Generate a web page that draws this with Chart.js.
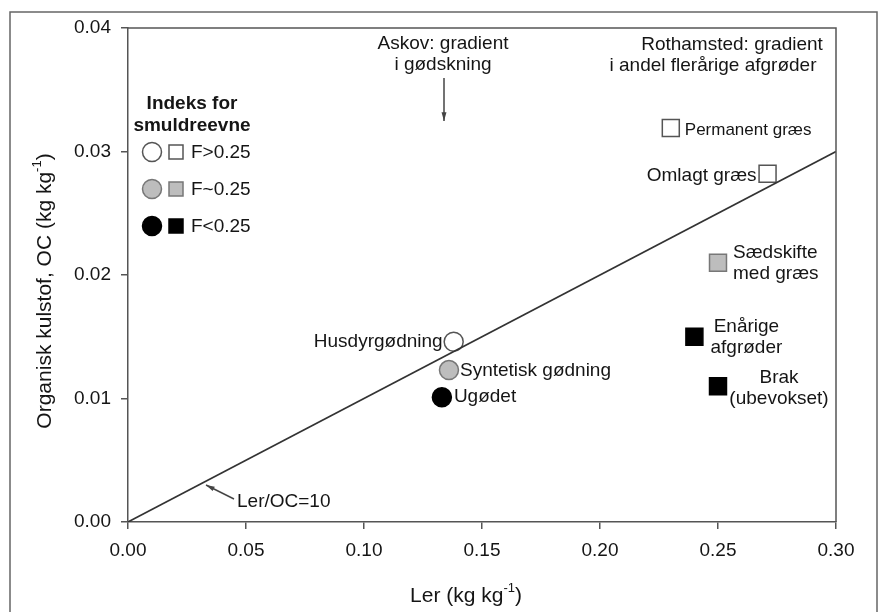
<!DOCTYPE html>
<html>
<head>
<meta charset="utf-8">
<script src="https://cdn.jsdelivr.net/npm/chart.js@4"></script>
<style>
  body { margin: 0; background: #fff; }
  canvas { display: block; }
</style>
</head>
<body>
<canvas id="chart" width="880" height="612"></canvas>
<script>
// Data
const names = ["Husdyrgødning", "Syntetisk gødning", "Ugødet", "Permanent græs",
  "Omlagt græs", "Sædskifte med græs", "Enårige afgrøder", "Brak (ubevokset)"];
const clay = [0.138, 0.136, 0.133, 0.230, 0.271, 0.250, 0.240, 0.250];
const carbon = [0.0146, 0.0123, 0.0101, 0.0319, 0.0282, 0.0210, 0.0150, 0.0110];
const friability = ["high", "mid", "low", "high", "high", "mid", "low", "low"];
const site = ["Askov", "Askov", "Askov", "Rothamsted", "Rothamsted", "Rothamsted", "Rothamsted", "Rothamsted"];

// Ler/OC = 10 reference line end points
const refClay = [0, 0.30];
const refCarbon = [0, 0.030];

const xTicks = [0, 0.05, 0.10, 0.15, 0.20, 0.25, 0.30];
const yTicks = [0, 0.01, 0.02, 0.03, 0.04];

const fills = { high: "#ffffff", mid: "#bdbdbd", low: "#000000" };
const strokes = { high: "#555555", mid: "#777777", low: "#000000" };
const legendRows = [["high", "F>0.25"], ["mid", "F~0.25"], ["low", "F<0.25"]];

// how each point label sits next to its marker (pixels)
const labelStyle = [
  { dx: -11, dy: 0, align: "right", lines: ["Husdyrgødning"] },
  { dx: 11, dy: 1, align: "left", lines: ["Syntetisk gødning"] },
  { dx: 12, dy: 0, align: "left", lines: ["Ugødet"] },
  { dx: 14, dy: 2, align: "left", lines: ["Permanent græs"], size: 17 },
  { dx: -11, dy: 2, align: "right", lines: ["Omlagt græs"] },
  { dx: 15, dy: -10, align: "left", lines: ["Sædskifte", "med græs"] },
  { dx: 52, dy: -10, align: "center", lines: ["Enårige", "afgrøder"] },
  { dx: 61, dy: -8, align: "center", lines: ["Brak", "(ubevokset)"] }
];

const FONT = "'Liberation Sans', Arial, sans-serif";
const INK = "#151515";
const AXIS = "#555";

function arrow(ctx, x1, y1, x2, y2) {
  const a = Math.atan2(y2 - y1, x2 - x1);
  ctx.beginPath();
  ctx.moveTo(x1, y1);
  ctx.lineTo(x2, y2);
  ctx.stroke();
  ctx.beginPath();
  ctx.moveTo(x2, y2);
  ctx.lineTo(x2 - 9 * Math.cos(a - 0.28), y2 - 9 * Math.sin(a - 0.28));
  ctx.lineTo(x2 - 9 * Math.cos(a + 0.28), y2 - 9 * Math.sin(a + 0.28));
  ctx.closePath();
  ctx.fill();
}

function superTitle(ctx, x, y, base, sup, tail, size) {
  ctx.font = size + "px " + FONT;
  const w1 = ctx.measureText(base).width;
  ctx.font = Math.round(size * 0.62) + "px " + FONT;
  const w2 = ctx.measureText(sup).width;
  ctx.font = size + "px " + FONT;
  const w3 = ctx.measureText(tail).width;
  let left = x - (w1 + w2 + w3) / 2;
  ctx.textAlign = "left";
  ctx.textBaseline = "middle";
  ctx.fillText(base, left, y);
  ctx.font = Math.round(size * 0.62) + "px " + FONT;
  ctx.fillText(sup, left + w1, y - size * 0.38);
  ctx.font = size + "px " + FONT;
  ctx.fillText(tail, left + w1 + w2, y);
}

const extras = {
  id: "extras",
  afterDraw(chart) {
    const ctx = chart.ctx;
    const area = chart.chartArea;
    ctx.save();

    // outer frame (no bottom edge)
    ctx.strokeStyle = "#666";
    ctx.lineWidth = 1.5;
    ctx.beginPath();
    ctx.moveTo(10, 612);
    ctx.lineTo(10, 12);
    ctx.lineTo(877, 12);
    ctx.lineTo(877, 612);
    ctx.stroke();

    // top and right border of the plot box
    ctx.strokeStyle = AXIS;
    ctx.beginPath();
    ctx.moveTo(area.left, area.top);
    ctx.lineTo(area.right, area.top);
    ctx.lineTo(area.right, area.bottom);
    ctx.stroke();

    ctx.fillStyle = INK;
    // axis titles
    superTitle(ctx, 466, 596, "Ler (kg kg", "-1", ")", 21);
    ctx.save();
    ctx.translate(45, 291);
    ctx.rotate(-Math.PI / 2);
    superTitle(ctx, 0, 0, "Organisk kulstof, OC (kg kg", "-1", ")", 21);
    ctx.restore();

    // point labels
    const meta = chart.getDatasetMeta(1);
    meta.data.forEach((pt, i) => {
      const s = labelStyle[i];
      ctx.font = (s.size || 19) + "px " + FONT;
      ctx.textAlign = s.align;
      ctx.textBaseline = "middle";
      s.lines.forEach((line, k) => {
        ctx.fillText(line, pt.x + s.dx, pt.y + s.dy + k * 21);
      });
    });

    // legend
    ctx.textAlign = "center";
    ctx.font = "bold 19px " + FONT;
    ctx.fillText("Indeks for", 192, 104);
    ctx.fillText("smuldreevne", 192, 126);
    legendRows.forEach((row, k) => {
      const y = 152 + k * 37;
      ctx.fillStyle = fills[row[0]];
      ctx.strokeStyle = strokes[row[0]];
      ctx.lineWidth = 1.5;
      ctx.beginPath();
      ctx.arc(152, y, 9.5, 0, Math.PI * 2);
      ctx.fill();
      ctx.stroke();
      ctx.fillRect(169, y - 7, 14, 14);
      ctx.strokeRect(169, y - 7, 14, 14);
      ctx.fillStyle = INK;
      ctx.font = "19px " + FONT;
      ctx.textAlign = "left";
      ctx.fillText(row[1], 191, y + 1);
      ctx.textAlign = "center";
    });

    // site annotations
    ctx.font = "19px " + FONT;
    ctx.fillText("Askov: gradient", 443, 44);
    ctx.fillText("i gødskning", 443, 65);
    ctx.fillText("Rothamsted: gradient", 732, 45);
    ctx.fillText("i andel flerårige afgrøder", 713, 66);
    ctx.strokeStyle = "#444";
    ctx.fillStyle = "#444";
    ctx.lineWidth = 1.5;
    arrow(ctx, 444, 78, 444, 121);
    arrow(ctx, 234, 499, 206, 485);
    ctx.fillStyle = INK;
    ctx.textAlign = "left";
    ctx.fillText("Ler/OC=10", 237, 502);

    ctx.restore();
  }
};

new Chart(document.getElementById("chart"), {
  type: "scatter",
  data: {
    datasets: [
      {
        type: "line",
        label: "Ler/OC=10",
        data: refClay.map((x, i) => ({ x: x, y: refCarbon[i] })),
        borderColor: "#333",
        borderWidth: 1.6,
        pointRadius: 0,
        fill: false
      },
      {
        label: "Målinger",
        data: clay.map((x, i) => ({ x: x, y: carbon[i] })),
        pointStyle: site.map(s => (s === "Askov" ? "circle" : "rect")),
        pointRadius: site.map(s => (s === "Askov" ? 9.5 : 12)),
        pointBackgroundColor: friability.map(f => fills[f]),
        pointBorderColor: friability.map(f => strokes[f]),
        pointBorderWidth: 1.5
      }
    ]
  },
  options: {
    responsive: false,
    animation: false,
    layout: { padding: { top: 28, right: 44, left: 0, bottom: 0 } },
    plugins: { legend: { display: false }, tooltip: { enabled: false } },
    scales: {
      x: {
        type: "linear",
        min: 0,
        max: 0.30,
        afterFit: s => { s.height = 90; },
        afterBuildTicks: s => { s.ticks = xTicks.map(v => ({ value: v })); },
        border: { display: true, color: AXIS, width: 1.5 },
        grid: { drawOnChartArea: false, drawTicks: true, tickLength: 7, color: AXIS, lineWidth: 1.5 },
        ticks: {
          padding: 10,
          maxRotation: 0,
          autoSkip: false,
          color: INK,
          font: { family: FONT, size: 19 },
          callback: v => Number(v).toFixed(2)
        }
      },
      y: {
        type: "linear",
        min: 0,
        max: 0.04,
        afterFit: s => { s.width = 128; },
        afterBuildTicks: s => { s.ticks = yTicks.map(v => ({ value: v })); },
        border: { display: true, color: AXIS, width: 1.5 },
        grid: { drawOnChartArea: false, drawTicks: true, tickLength: 7, color: AXIS, lineWidth: 1.5 },
        ticks: {
          padding: 10,
          color: INK,
          font: { family: FONT, size: 19 },
          callback: v => Number(v).toFixed(2)
        }
      }
    }
  },
  plugins: [extras]
});
</script>
</body>
</html>
